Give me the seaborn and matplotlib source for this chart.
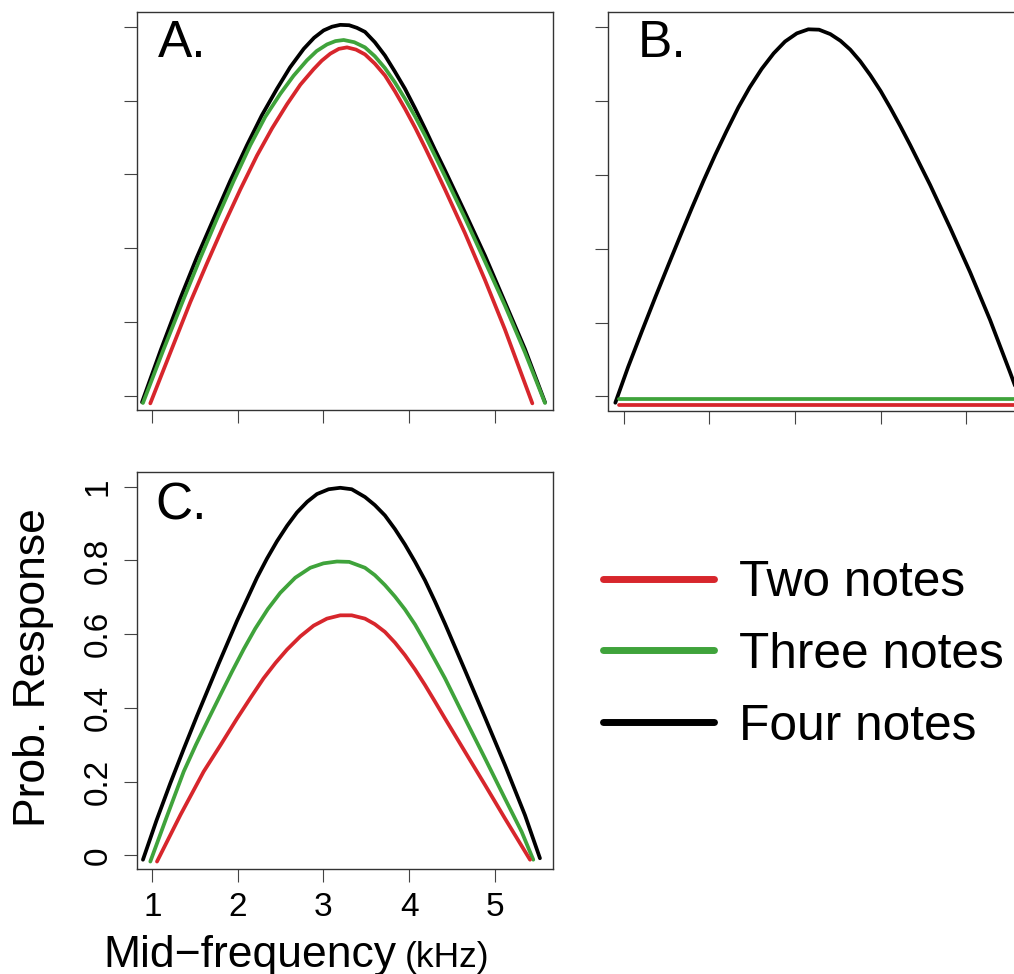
import matplotlib
matplotlib.use('Agg')
import matplotlib.pyplot as plt
from matplotlib.lines import Line2D
import seaborn as sns

# 곡선 값
# A 패널
a_two_x = [0.977, 1.21, 1.444, 1.64, 1.834, 2.03, 2.223, 2.40, 2.574, 2.73, 2.885, 2.98, 3.08, 3.18, 3.275, 3.38,
           3.485, 3.60, 3.718, 3.835, 3.952, 4.07, 4.186, 4.30, 4.42, 4.653, 4.887, 5.12, 5.44]
a_two_y = [-0.02, 0.117, 0.254, 0.360, 0.462, 0.560, 0.651, 0.725, 0.790, 0.843, 0.885, 0.908, 0.927, 0.940, 0.944, 0.938,
           0.925, 0.900, 0.868, 0.825, 0.778, 0.727, 0.673, 0.618, 0.559, 0.441, 0.314, 0.180, -0.02]
a_three_x = [0.891, 1.13, 1.367, 1.56, 1.756, 1.95, 2.145, 2.32, 2.495, 2.65, 2.807, 2.92, 3.041, 3.14, 3.236, 3.36,
             3.485, 3.60, 3.718, 3.835, 3.952, 4.07, 4.186, 4.30, 4.42, 4.653, 4.887, 5.12, 5.354, 5.588]
a_three_y = [-0.019, 0.125, 0.263, 0.373, 0.48, 0.582, 0.679, 0.756, 0.818, 0.867, 0.909, 0.934, 0.952, 0.961, 0.964, 0.958,
             0.944, 0.920, 0.888, 0.849, 0.805, 0.757, 0.706, 0.652, 0.595, 0.482, 0.364, 0.245, 0.118, -0.019]
a_four_x = [0.88, 1.10, 1.327, 1.52, 1.717, 1.91, 2.106, 2.28, 2.457, 2.61, 2.769, 2.89, 3.002, 3.10, 3.196, 3.30, 3.39,
            3.485, 3.60, 3.718, 3.835, 3.952, 4.07, 4.186, 4.30, 4.42, 4.653, 4.887, 5.12, 5.354, 5.588]
a_four_y = [-0.017, 0.125, 0.264, 0.375, 0.48, 0.582, 0.679, 0.760, 0.832, 0.890, 0.94, 0.970, 0.99, 1.000, 1.005, 1.004, 0.997,
            0.986, 0.958, 0.922, 0.878, 0.832, 0.779, 0.724, 0.668, 0.611, 0.497, 0.38, 0.254, 0.127, -0.017]

# B 패널
b_two_x = [0.94, 5.62]
b_two_y = [-0.022, -0.022]
b_three_x = [0.94, 5.62]
b_three_y = [-0.008, -0.008]
b_four_x = [0.9, 1.05, 1.21, 1.37, 1.522, 1.66, 1.793, 1.93, 2.066, 2.20, 2.338, 2.47, 2.61, 2.75, 2.883, 3.02, 3.155,
            3.28, 3.412, 3.53, 3.645, 3.76, 3.879, 4.00, 4.112, 4.23, 4.345, 4.578, 4.812, 5.045, 5.278, 5.512, 5.6]
b_four_y = [-0.017, 0.080, 0.176, 0.270, 0.357, 0.435, 0.509, 0.583, 0.653, 0.718, 0.782, 0.836, 0.886, 0.928, 0.960, 0.982, 0.993,
            0.992, 0.980, 0.962, 0.938, 0.907, 0.869, 0.826, 0.781, 0.731, 0.680, 0.572, 0.456, 0.336, 0.207, 0.065, 0.010]

# C 패널
c_two_x = [1.055, 1.33, 1.60, 1.80, 1.99, 2.15, 2.30, 2.44, 2.574, 2.73, 2.885, 3.04, 3.196, 3.33, 3.485, 3.60,
           3.718, 3.835, 3.952, 4.07, 4.186, 4.30, 4.42, 4.653, 4.887, 5.12, 5.413]
c_two_y = [-0.017, 0.11, 0.227, 0.30, 0.371, 0.428, 0.48, 0.522, 0.558, 0.594, 0.623, 0.642, 0.651, 0.651, 0.642, 0.627,
           0.606, 0.577, 0.543, 0.504, 0.462, 0.418, 0.371, 0.281, 0.191, 0.10, -0.012]
c_three_x = [0.977, 1.17, 1.367, 1.51, 1.659, 1.80, 1.931, 2.07, 2.203, 2.35, 2.495, 2.67, 2.846, 3.0, 3.158, 3.30,
             3.485, 3.60, 3.718, 3.835, 3.952, 4.07, 4.186, 4.30, 4.42, 4.653, 4.887, 5.12, 5.315, 5.451]
c_three_y = [-0.017, 0.105, 0.227, 0.30, 0.371, 0.437, 0.498, 0.560, 0.615, 0.668, 0.712, 0.753, 0.780, 0.792, 0.797, 0.796,
             0.780, 0.760, 0.733, 0.702, 0.667, 0.626, 0.579, 0.531, 0.48, 0.371, 0.263, 0.154, 0.064, -0.012]
c_four_x = [0.891, 1.05, 1.21, 1.37, 1.522, 1.776, 1.99, 2.223, 2.34, 2.457, 2.575, 2.69, 2.81, 2.924, 3.06, 3.196,
            3.33, 3.485, 3.60, 3.718, 3.835, 3.952, 4.07, 4.186, 4.30, 4.42, 4.653, 4.887, 5.12, 5.354, 5.529]
c_four_y = [-0.012, 0.095, 0.195, 0.290, 0.378, 0.520, 0.636, 0.753, 0.805, 0.852, 0.894, 0.930, 0.959, 0.980, 0.993, 0.997,
            0.993, 0.972, 0.950, 0.922, 0.885, 0.843, 0.796, 0.746, 0.690, 0.628, 0.502, 0.374, 0.245, 0.109, -0.008]

labels = ['Two notes', 'Three notes', 'Four notes']
colors = ['#d7262c', '#3fa33b', '#000000']
x_ticks = [1, 2, 3, 4, 5]
y_ticks = [0, 0.2, 0.4, 0.6, 0.8, 1]
y_tick_labels = ['0', '0.2', '0.4', '0.6', '0.8', '1']

sns.set_theme(style='ticks')
plt.rcParams['font.family'] = ['Liberation Sans', 'DejaVu Sans']
plt.rcParams['text.color'] = 'black'
plt.rcParams['xtick.labelcolor'] = 'black'
plt.rcParams['ytick.labelcolor'] = 'black'

fig = plt.figure(figsize=(10.14, 9.74), dpi=100)
W, H = 1014, 974

def make_ax(left, top, bottom):
    ax = fig.add_axes([left / W, (H - bottom) / H, 416 / W, (bottom - top) / H])
    ax.set_xlim(0.818, 5.678)
    ax.set_ylim(-0.038, 1.039)
    ax.set_xticks(x_ticks)
    ax.set_yticks(y_ticks)
    for s in ax.spines.values():
        s.set_color('#333333')
        s.set_linewidth(1.0)
    ax.tick_params(length=9.2, width=0.8, color='#444444', direction='out')
    return ax

ax_a = make_ax(136.7, 12.3, 410.0)
ax_b = make_ax(608.3, 12.3, 410.5)
ax_c = make_ax(136.7, 472.3, 869.3)

def draw(ax, series):
    for (xs, ys), col in zip(series, colors[::-1]):
        sns.lineplot(x=xs, y=ys, ax=ax, color=col, lw=2.7, sort=False, estimator=None,
                     solid_joinstyle='round', solid_capstyle='round')

draw(ax_a, [(a_four_x, a_four_y), (a_three_x, a_three_y), (a_two_x, a_two_y)])
draw(ax_b, [(b_four_x, b_four_y), (b_three_x, b_three_y), (b_two_x, b_two_y)])
draw(ax_c, [(c_four_x, c_four_y), (c_three_x, c_three_y), (c_two_x, c_two_y)])

for ax in (ax_a, ax_b):
    ax.set_xticklabels([])
    ax.set_yticklabels([])

ax_c.set_xticklabels([str(t) for t in x_ticks], fontsize=24)
ax_c.set_yticklabels(y_tick_labels, fontsize=24, rotation=90, va='center')
ax_c.tick_params(axis='x', pad=7)
ax_c.tick_params(axis='y', pad=7.5)

ax_a.text(0.05, 0.888, 'A.', transform=ax_a.transAxes, fontsize=37, va='baseline')
ax_b.text(0.071, 0.888, 'B.', transform=ax_b.transAxes, fontsize=37, va='baseline')
ax_c.text(0.046, 0.882, 'C.', transform=ax_c.transAxes, fontsize=37, va='baseline')

fig.text(103 / W, (H - 966.7) / H, 'Mid\u2212frequency', fontsize=32, ha='left', va='baseline')
fig.text(405 / W, (H - 966.7) / H, '(kHz)', fontsize=25.5, ha='left', va='baseline')
fig.text(13 / W, (H - 668) / H, 'Prob. Response', fontsize=32, rotation=90, ha='left', va='center')

handles = [Line2D([], [], color=c, lw=5) for c in colors]
fig.legend(handles, labels, loc='upper left', bbox_to_anchor=(603 / W, (H - 560) / H),
           frameon=False, fontsize=35.7, handlelength=2.23, handletextpad=0.51,
           labelspacing=0.52, borderpad=0, borderaxespad=0)

fig.savefig('out.png', dpi=100)
